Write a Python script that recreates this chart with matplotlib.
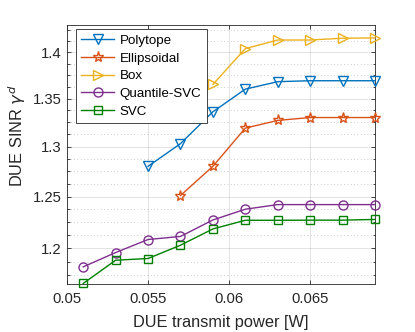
import matplotlib
matplotlib.use("Agg")
import matplotlib.pyplot as plt
from matplotlib.ticker import FuncFormatter, NullFormatter, FixedLocator

plt.rcParams['font.family'] = ['Liberation Sans', 'DejaVu Sans']
plt.rcParams['mathtext.fontset'] = 'dejavusans'

power = [0.051, 0.053, 0.055, 0.057, 0.059, 0.061, 0.063, 0.065, 0.067, 0.069]

polytope_x = [0.055, 0.057, 0.059, 0.061, 0.063, 0.065, 0.067, 0.069]
polytope = [1.280, 1.303, 1.336, 1.360, 1.368, 1.369, 1.369, 1.369]

ellipsoidal_x = [0.057, 0.059, 0.061, 0.063, 0.065, 0.067, 0.069]
ellipsoidal = [1.251, 1.280, 1.319, 1.327, 1.330, 1.330, 1.330]

box_x = [0.059, 0.061, 0.063, 0.065, 0.067, 0.069]
box = [1.365, 1.404, 1.4135, 1.4135, 1.4155, 1.4158]

quantile_svc = [1.1828, 1.1962, 1.2085, 1.2114, 1.2272, 1.2376, 1.2421, 1.2421, 1.2421, 1.2421]
svc = [1.1675, 1.189, 1.1906, 1.2031, 1.2186, 1.2269, 1.2269, 1.2270, 1.2270, 1.2277]

labels = ['Polytope', 'Ellipsoidal', 'Box', 'Quantile-SVC', 'SVC']
colors = ['#0072BD', '#D95319', '#EDB120', '#7E2F8E', '#008000']
markers = ['v', '*', '>', 'o', 's']
msizes = [6.5, 8, 6.5, 6.5, 5.5]

fig = plt.figure(figsize=(4.15, 3.32), dpi=100)
ax = fig.add_axes([67/415, 1-284/332, 308/415, 259.3/332])

series = [(polytope_x, polytope), (ellipsoidal_x, ellipsoidal), (box_x, box),
          (power, quantile_svc), (power, svc)]
for (xs, ys), lab, c, m, ms in zip(series, labels, colors, markers, msizes):
    ax.plot(xs, ys, color=c, marker=m, markersize=ms, markerfacecolor='none',
            markeredgecolor=c, markeredgewidth=1.0, linewidth=1.0, label=lab,
            clip_on=False, zorder=3)

ax.set_yscale('log')
ax.set_xlim(0.05, 0.069)
ax.set_ylim(1.167, 1.4306)

ax.xaxis.set_major_locator(FixedLocator([0.05, 0.055, 0.06, 0.065]))
ax.xaxis.set_major_formatter(FuncFormatter(lambda v, p: '%g' % round(v, 4)))
ax.yaxis.set_major_locator(FixedLocator([1.2, 1.25, 1.3, 1.35, 1.4]))
ax.yaxis.set_major_formatter(FuncFormatter(lambda v, p: '%g' % round(v, 4)))
ax.yaxis.set_minor_locator(FixedLocator([1.175, 1.1875, 1.2125, 1.225, 1.2375,
                                          1.2625, 1.275, 1.2875, 1.3125, 1.325, 1.3375,
                                          1.3625, 1.375, 1.3875, 1.4125, 1.425]))
ax.yaxis.set_minor_formatter(NullFormatter())
ax.xaxis.set_minor_locator(FixedLocator([]))

ax.grid(True, which='major', axis='both', color='#262626', alpha=0.15, linewidth=0.6)
ax.grid(True, which='minor', axis='y', color='#262626', alpha=0.3, linewidth=0.6,
        linestyle=(0, (1, 3)))
ax.set_axisbelow(True)

ax.tick_params(which='both', direction='in', top=True, right=True,
               colors='#262626', labelcolor='#262626', labelsize=10.7, width=0.6)
ax.tick_params(which='major', length=3)
ax.tick_params(axis='x', which='major', pad=6)
ax.tick_params(axis='y', which='major', pad=4)
ax.tick_params(which='minor', length=1.8)
for s in ax.spines.values():
    s.set_color('#262626')
    s.set_linewidth(0.6)

ax.set_xlabel('DUE transmit power [W]', fontsize=11.8, color='#262626', labelpad=6)
ax.set_ylabel(r'DUE SINR $\gamma^d$', fontsize=11.8, color='#262626')
ax.yaxis.set_label_coords(-0.125, 0.57)

leg = ax.legend(loc='upper left', bbox_to_anchor=(8.7/308, 1-4.6/259.3),
                borderaxespad=0, fontsize=9.6, frameon=True, fancybox=False,
                edgecolor='#262626', framealpha=1, handlelength=2.5,
                handletextpad=0.4, labelspacing=0.4, borderpad=0.4)
leg.get_frame().set_linewidth(0.6)

fig.savefig('out.png', dpi=100)
